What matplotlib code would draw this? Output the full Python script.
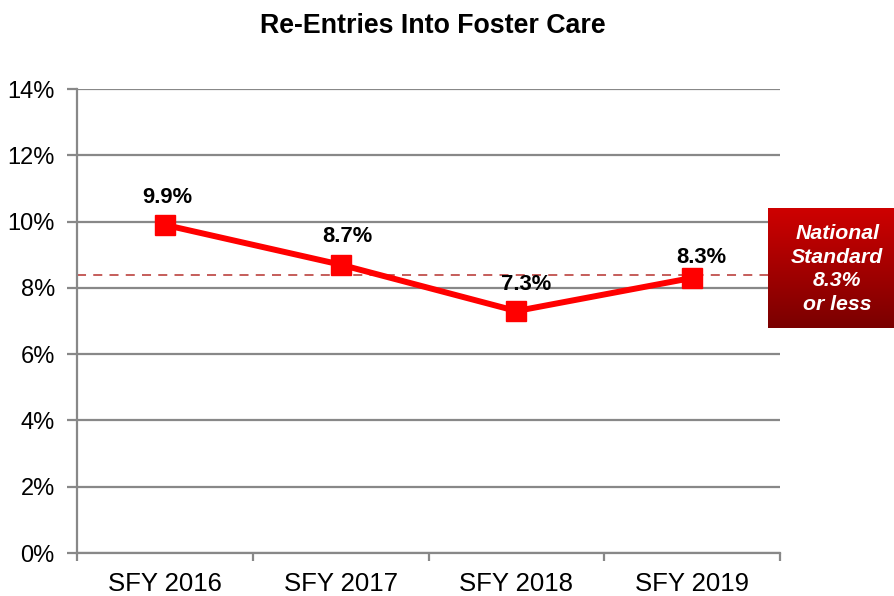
import numpy as np
import matplotlib
matplotlib.use("Agg")
import matplotlib.pyplot as plt
from matplotlib.ticker import PercentFormatter
from matplotlib.colors import LinearSegmentedColormap

plt.rcParams['font.family'] = ['Liberation Sans', 'DejaVu Sans']

# ---- data ----
categories = ["SFY 2016", "SFY 2017", "SFY 2018", "SFY 2019"]
reentry_rate = [9.9, 8.7, 7.3, 8.3]
national_standard_line = 8.4
standard_text = "National\nStandard\n8.3%\nor less"
title = "Re-Entries Into Foster Care"
y_ticks = [0, 2, 4, 6, 8, 10, 12, 14]

# label offsets in pixels (dx, dy)
label_offsets = [(2, 27), (7, 28), (10, 27), (9, 20)]

W, H = 894, 596
fig = plt.figure(figsize=(W / 100, H / 100), dpi=100)
ax = fig.add_axes([77 / W, (H - 553) / H, (780 - 77) / W, (553 - 89) / H])

x = np.arange(len(categories)) + 0.5
grid_c = "#888888"

ax.set_ylim(0, 14)
ax.set_xlim(0, len(categories))
ax.set_yticks(y_ticks)
ax.yaxis.set_major_formatter(PercentFormatter(decimals=0))
ax.set_xticks(np.arange(len(categories) + 1))
ax.set_xticklabels([])
ax.set_xticks(x, minor=True)
ax.set_xticklabels(categories, minor=True)
ax.tick_params(axis='x', which='minor', length=0, labelsize=18.5, pad=13.5)
ax.tick_params(axis='x', which='major', length=6, width=1.6, color=grid_c)
ax.tick_params(axis='y', length=7, width=1.6, color=grid_c, labelsize=17, pad=9)

ax.grid(axis='y', color=grid_c, linewidth=1.6)
ax.set_axisbelow(True)
for s in ['top', 'right']:
    ax.spines[s].set_visible(False)
for s in ['left', 'bottom']:
    ax.spines[s].set_color(grid_c)
    ax.spines[s].set_linewidth(1.6)

# national standard dashed line (extends to box)
ax.plot([0, (768 - 77) / (780 - 77) * len(categories)],
        [national_standard_line] * 2, linestyle=(0, (5, 4)),
        color="#c0504d", linewidth=1.3, clip_on=False, zorder=2)

ax.plot(x, reentry_rate, color="#ff0000", linewidth=4.3, marker='s',
        markersize=14, markeredgecolor="#ff0000", zorder=3, clip_on=False)

for xi, v, (dx, dy) in zip(x, reentry_rate, label_offsets):
    ax.annotate(f"{v:.1f}%", (xi, v), xytext=(dx * 0.72, dy * 0.72),
                textcoords='offset points', ha='center', va='center',
                fontsize=15.8, fontweight='bold', zorder=4)

fig.text(432.5 / W, 1 - 26 / H, title, ha='center', va='center',
         fontsize=19.3, fontweight='bold')

# gradient box
bx0, by0, bx1, by1 = 768, 208, 894, 328
bax = fig.add_axes([bx0 / W, (H - by1) / H, (bx1 - bx0) / W, (by1 - by0) / H])
grad = np.linspace(0, 1, 256).reshape(-1, 1)
cmap = LinearSegmentedColormap.from_list("g", ["#cf0000", "#7a0000"])
bax.imshow(grad, aspect='auto', cmap=cmap, extent=[0, 1, 0, 1], origin='upper')
bax.set_axis_off()
bax.text(0.55, 0.49, standard_text, ha='center', va='center', color='white',
         fontsize=15.3, fontweight='bold', fontstyle='italic',
         linespacing=1.3, transform=bax.transAxes)

fig.savefig("out.png", dpi=100)
